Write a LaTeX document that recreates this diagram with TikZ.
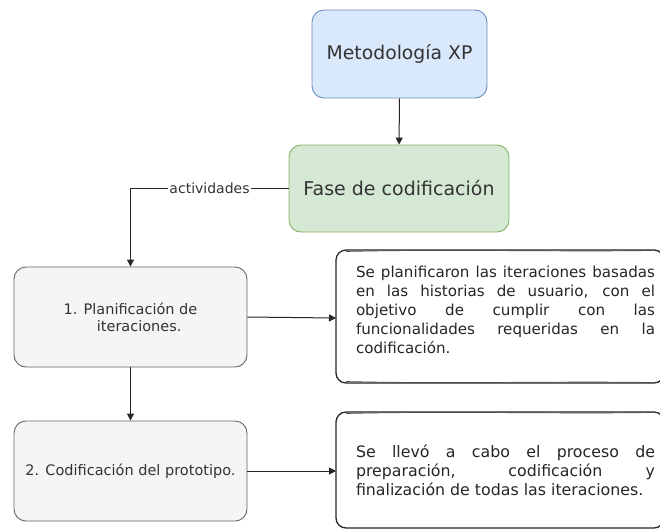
\documentclass[tikz,border=0pt]{standalone}
\usepackage{fontspec}
\setmainfont{DejaVu Sans}
\usetikzlibrary{arrows.meta}
\definecolor{xpfill}{HTML}{DAE8FC}
\definecolor{xpdraw}{HTML}{6C8EBF}
\definecolor{gfill}{HTML}{D5E8D4}
\definecolor{gdraw}{HTML}{82B366}
\definecolor{bfill}{HTML}{F5F5F5}
\definecolor{bdraw}{HTML}{666666}
\definecolor{txt}{HTML}{333333}
\tikzset{
  boxbase/.style={draw, rounded corners=12pt, line width=0.9pt, text=txt, align=center, inner sep=2pt},
  xpbox/.style={boxbase, fill=xpfill, draw=xpdraw, minimum width=175pt, minimum height=88pt, font=\fontsize{18.8}{22}\selectfont},
  fasebox/.style={boxbase, fill=gfill, draw=gdraw, minimum width=220pt, minimum height=87pt, font=\fontsize{19}{22}\selectfont},
  actbox/.style={boxbase, fill=bfill, draw=bdraw, minimum width=233pt, minimum height=100pt, font=\fontsize{14.5}{17}\selectfont},
  calltext/.style={text width=299pt, align=justify, inner sep=0pt, text=black!85, font=\fontsize{15.8}{19}\selectfont},
  conn/.style={line width=1pt, draw=black!85, -{Triangle[length=7pt,width=7pt]}},
  sketch/.style={line width=1.3pt, draw=black!85, rounded corners=10pt},
}
\begin{document}
\begin{tikzpicture}[x=1pt,y=-1pt]
\useasboundingbox (0,0) rectangle (660,531);
\clip (0,0) rectangle (660,531);
\fill[white] (0,0) rectangle (660,531);

\node[xpbox] (xp) at (399.5,54) {Metodología XP};
\node[fasebox] (fase) at (399,188.5) {Fase de codificación};
\node[actbox] (b1) at (130.5,317) {1. Planificación de\\ \hspace*{1.2em}iteraciones.};
\node[actbox] (b2) at (130.5,471) {2. Codificación del prototipo.};

% sketchy callout boxes
\draw[sketch] (336,250) rectangle (664,383);
\draw[line width=0.7pt, draw=black!70] (346,251.5) .. controls (450,249) and (560,252) .. (652,250.5);
\draw[line width=0.7pt, draw=black!70] (346,381.5) .. controls (450,384) and (560,381) .. (652,382.5);
\node[calltext, font=\fontsize{15.1}{19}\selectfont] (c1) at (505.5,310) {Se planificaron las iteraciones basadas\linebreak en las historias de usuario, con el\linebreak objetivo de cumplir con las\linebreak funcionalidades requeridas en la\linebreak codificación.};
\coordinate (c1in) at (336,318);

\draw[sketch] (336,412) rectangle (664,528);
\draw[line width=0.7pt, draw=black!70] (346,413.5) .. controls (450,411) and (560,414) .. (652,412.5);
\node[calltext] (c2) at (505.5,470) {Se llevó a cabo el proceso de\linebreak preparación, codificación y\linebreak finalización de todas las iteraciones.};
\coordinate (c2in) at (336,471);

\draw[conn] (xp) -- (fase);
\draw[conn] (fase.west) -| node[pos=0.25, fill=white, inner sep=1pt, text=txt, font=\fontsize{14}{16}\selectfont] {actividades} (b1.north);
\draw[conn] (b1) -- (b2);
\draw[conn] (b1.east) -- (c1in);
\draw[conn] (b2.east) -- (c2in);
\end{tikzpicture}
\end{document}
